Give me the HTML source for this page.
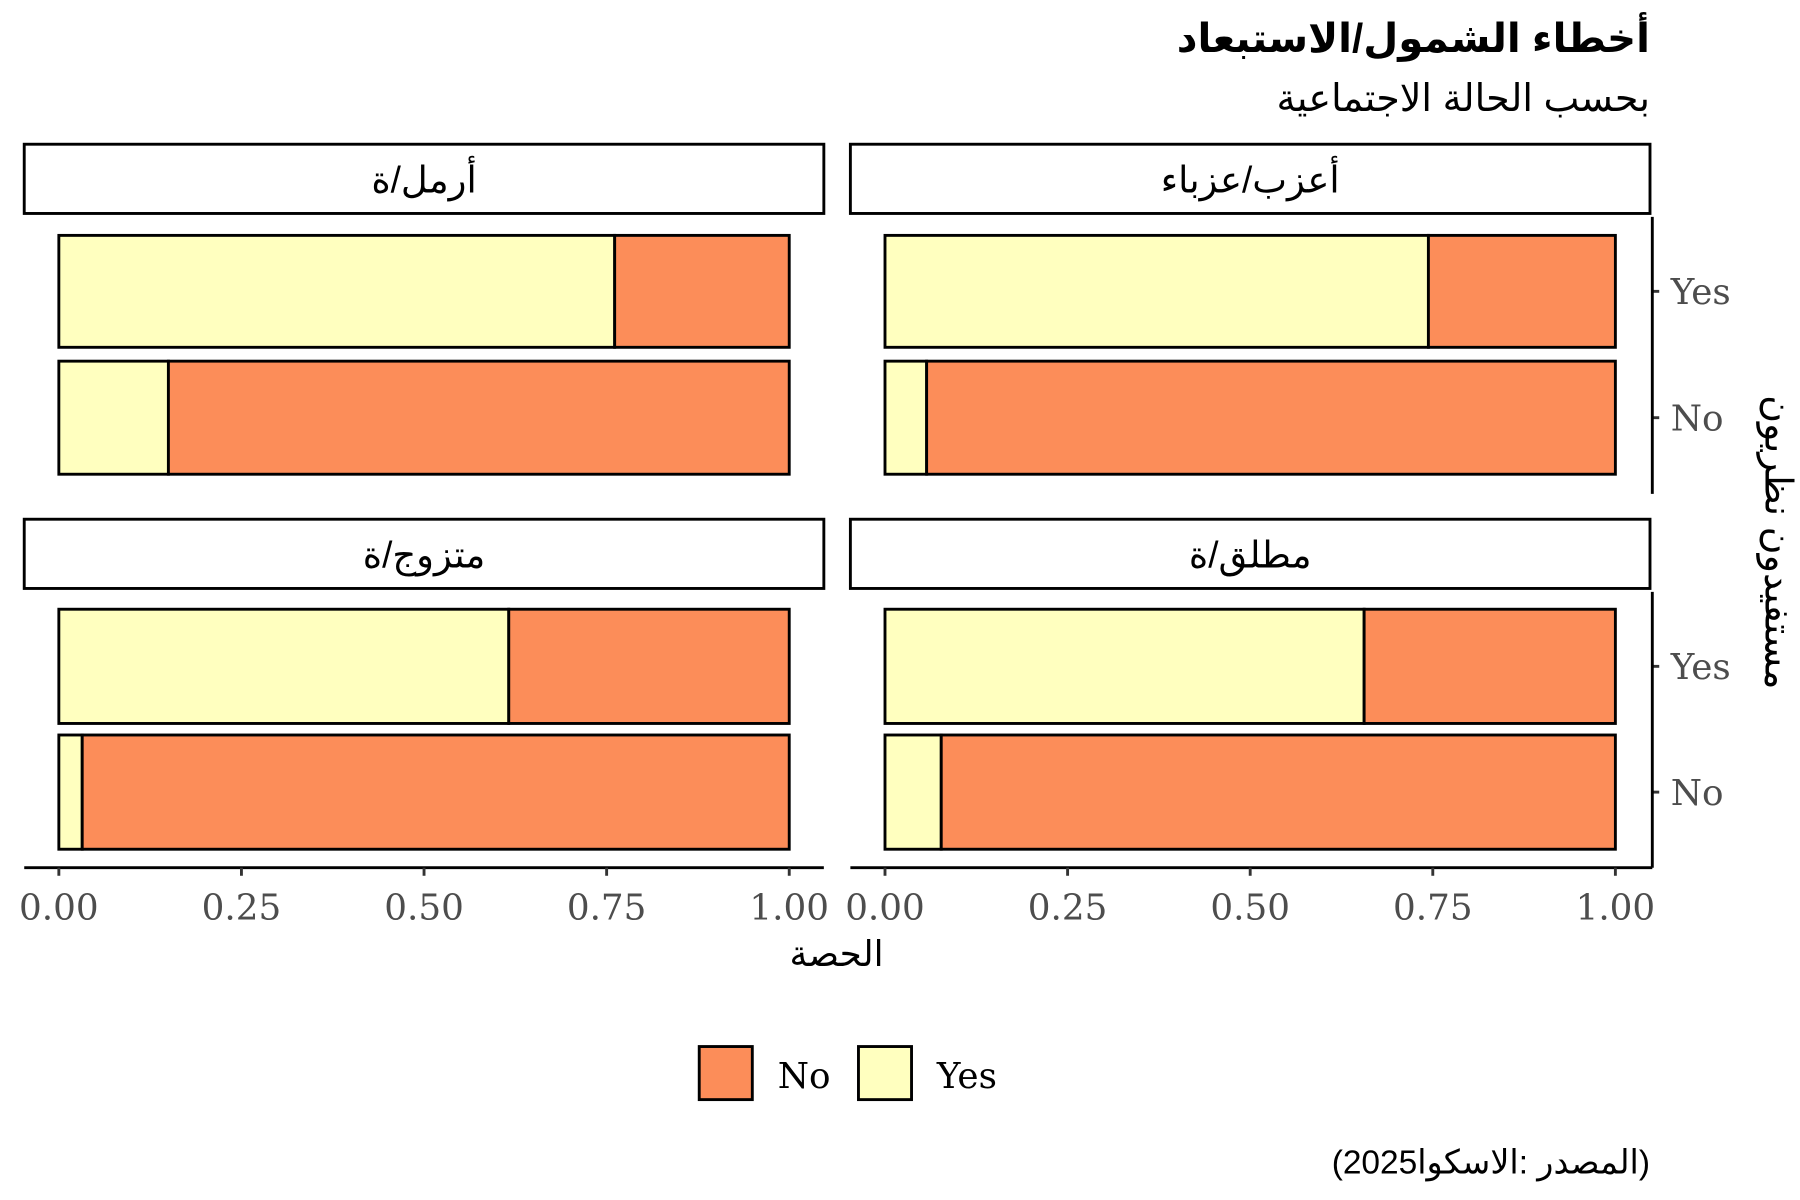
<!DOCTYPE html>
<html><head><meta charset="utf-8">
<style>
html,body{margin:0;padding:0;background:#fff;}
svg{display:block;}
.ar{font-family:"Liberation Sans","Noto Sans CJK SC","DejaVu Sans",sans-serif;}
.tick{font-family:"DejaVu Serif","Liberation Serif",serif;fill:#4d4d4d;font-size:31px;}
</style></head>
<body>
<svg id="chart" width="1800" height="1200" viewBox="0 0 1560 1040" xmlns="http://www.w3.org/2000/svg">
  <text class="ar" x="1430" y="45" text-anchor="end" font-size="35" font-weight="bold">أخطاء الشمول/الاستبعاد</text>
  <text class="ar" x="1430" y="96" text-anchor="end" font-size="33">بحسب الحالة الاجتماعية</text>
  <g id="panels"></g>
  <text class="ar" x="725" y="837" text-anchor="middle" font-size="31">الحصة</text>
  <text class="ar" transform="translate(1530,470) rotate(90)" text-anchor="middle" font-size="33">مستفيدون نظريون</text>
  <g>
    <rect x="606" y="907" width="46" height="46" fill="#FC8D59" stroke="#000" stroke-width="2.5"/>
    <text class="tick" x="674" y="943" style="fill:#000" font-size="35">No</text>
    <rect x="744" y="907" width="46" height="46" fill="#FFFFBF" stroke="#000" stroke-width="2.5"/>
    <text class="tick" x="812" y="943" style="fill:#000" font-size="35">Yes</text>
  </g>
  <text class="ar" x="1430" y="1017" text-anchor="end" font-size="29">(2025المصدر :الاسكوا)</text>
</svg>
<script>
const panelNames = ["أرمل/ة","أعزب/عزباء","متزوج/ة","مطلق/ة"];
const rowCategories = ["Yes","No"];
const yesShare = [[0.761,0.150],[0.744,0.057],[0.616,0.032],[0.656,0.077]];
const xTicks = [0,0.25,0.5,0.75,1];
const xTickLabels = ["0.00","0.25","0.50","0.75","1.00"];

const NS="http://www.w3.org/2000/svg";
const g=document.getElementById('panels');
function mk(tag,attrs,parent){const e=document.createElementNS(NS,tag);for(const k in attrs)e.setAttribute(k,attrs[k]);(parent||g).appendChild(e);return e;}
const cols=[{sx:21,sw:693,x0:51,x1:684},{sx:737,sw:693,x0:767,x1:1400}];
const rows=[{sy:125,bars:[{y:204,h:97},{y:313,h:98}],ax0:188,ax1:428},{sy:450,bars:[{y:528,h:99},{y:637,h:99}],ax0:513,ax1:752}];
panelNames.forEach((name,i)=>{
  const c=cols[i%2], r=rows[Math.floor(i/2)];
  const xs=v=>c.x0+v*(c.x1-c.x0);
  const pg=mk('g',{});
  
  
  const st=mk('rect',{x:c.sx,y:r.sy,width:c.sw,height:60,fill:'#fff',stroke:'#000','stroke-width':2.5},pg);
  
  
  const tx=mk('text',{x:c.sx+c.sw/2,y:r.sy+42,'text-anchor':'middle','font-size':32,class:'ar'},pg);
  tx.textContent=name;
  
  
  rowCategories.forEach((cat,j)=>{
    const b=r.bars[j], v=yesShare[i][j];
    const ry=mk('rect',{x:xs(0),y:b.y,width:xs(v)-xs(0),height:b.h,fill:'#FFFFBF',stroke:'#000','stroke-width':2.5},pg);
    
    
    const rn=mk('rect',{x:xs(v),y:b.y,width:xs(1)-xs(v),height:b.h,fill:'#FC8D59',stroke:'#000','stroke-width':2.5},pg);
    
    
    if(i%2===1){
      const cy=b.y+b.h/2;
      mk('line',{x1:1432,x2:1438,y1:cy,y2:cy,stroke:'#333','stroke-width':2.5},pg);
      const t=mk('text',{x:1448,y:cy+11,class:'tick','font-size':34},pg);
      t.textContent=cat;
      
      
    }
  });
  if(i%2===1){
    const al=mk('line',{x1:1432,x2:1432,y1:r.ax0,y2:r.ax1,stroke:'#000','stroke-width':2.5},pg);
    
    
  }
  if(r===rows[1]){
    const xl=mk('line',{x1:c.sx,x2:c.sx+c.sw+(i%2?2:0),y1:752,y2:752,stroke:'#000','stroke-width':2.5},pg);
    
    
    xTicks.forEach((v,k)=>{
      mk('line',{x1:xs(v),x2:xs(v),y1:752,y2:759,stroke:'#333','stroke-width':2.5},pg);
      const t=mk('text',{x:xs(v),y:797,'text-anchor':'middle',class:'tick'},pg);
      t.textContent=xTickLabels[k];
      
      
    });
  }
});
</script>
</body></html>
